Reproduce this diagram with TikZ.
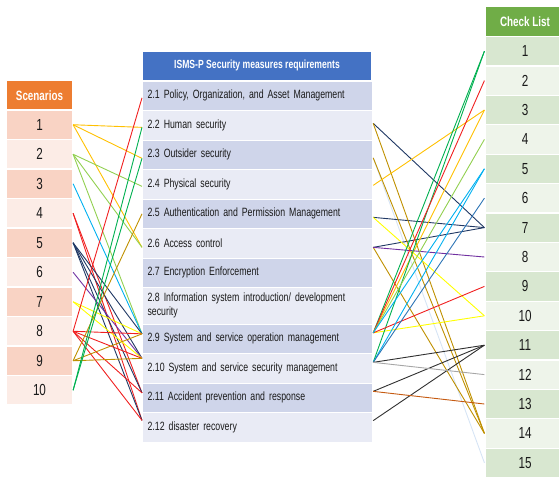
\documentclass[tikz,border=0pt]{standalone}
\usepackage{fontspec}
\setmainfont{Liberation Sans}[FakeStretch=0.73]
\usetikzlibrary{calc}

% table fills
\definecolor{scHead}{HTML}{ED7D31}
\definecolor{scDark}{HTML}{F9D3C4}
\definecolor{scLight}{HTML}{FCECE6}
\definecolor{isHead}{HTML}{4472C4}
\definecolor{isDark}{HTML}{CFD5EA}
\definecolor{isLight}{HTML}{E9EBF5}
\definecolor{clHead}{HTML}{70AD47}
\definecolor{clDark}{HTML}{D8E7D0}
\definecolor{clLight}{HTML}{EEF4EA}
\definecolor{txt}{HTML}{1A1A1A}
% link colours
\definecolor{lkYelOr}{HTML}{FFC000}
\definecolor{lkLGreen}{HTML}{92D050}
\definecolor{lkCyan}{HTML}{00B0F0}
\definecolor{lkRed}{HTML}{F02020}
\definecolor{lkNavy}{HTML}{203864}
\definecolor{lkPurple}{HTML}{7030A0}
\definecolor{lkYellow}{HTML}{FFFF00}
\definecolor{lkGold}{HTML}{BF9000}
\definecolor{lkGreen}{HTML}{00B050}
\definecolor{lkBlue}{HTML}{2E75B6}
\definecolor{lkBlack}{HTML}{303030}
\definecolor{lkGray}{HTML}{A6A6A6}
\definecolor{lkOrange}{HTML}{C55A11}
\definecolor{lkPale}{HTML}{D6E4F5}

\begin{document}
\begin{tikzpicture}[x=1pt,y=-1pt,
  cell/.style={draw=white, line width=1.2pt, inner sep=0pt, text=txt},
  headcell/.style={cell, text=white, font=\bfseries\fontsize{13.5}{15}\selectfont},
  numcell/.style={cell, font=\fontsize{16}{18}\selectfont},
  reqcell/.style={cell, anchor=north west, minimum width=230pt, text width=220pt,
    inner xsep=5pt, align=left, font=\fontsize{12}{14}\selectfont},
  lk/.style={line width=0.9pt}
]
\useasboundingbox (0,0) rectangle (559,477);

% ---------- Scenarios column ----------
\node[headcell, fill=scHead, minimum width=66pt, minimum height=29.5pt] (sh) at (39.5,95.25) {Scenarios};
\foreach \i in {1,...,10} {
  \ifodd\i\def\fc{scDark}\else\def\fc{scLight}\fi
  \pgfmathsetmacro\yc{110+29.5*(\i-0.5)}
  \node[numcell, fill=\fc, minimum width=66pt, minimum height=29.5pt] (s\i) at (39.5,\yc) {\i};
}

% ---------- ISMS-P requirements column ----------
\node[headcell, fill=isHead, minimum width=230pt, minimum height=29.5pt,
  font=\bfseries\fontsize{11.8}{14}\selectfont] (mh) at (257,65.75) {ISMS-P Security measures requirements};
\node[reqcell, fill=isDark,  minimum height=29.5pt] (m1)  at (142,80.5)  {2.1 Policy, Organization, and Asset Management};
\node[reqcell, fill=isLight, minimum height=29.5pt] (m2)  at (142,110)   {2.2 Human security};
\node[reqcell, fill=isDark,  minimum height=29.5pt] (m3)  at (142,139.5) {2.3 Outsider security};
\node[reqcell, fill=isLight, minimum height=29.5pt] (m4)  at (142,169)   {2.4 Physical security};
\node[reqcell, fill=isDark,  minimum height=29.5pt] (m5)  at (142,198.5) {2.5 Authentication and Permission Management};
\node[reqcell, fill=isLight, minimum height=29.5pt] (m6)  at (142,228)   {2.6 Access control};
\node[reqcell, fill=isDark,  minimum height=29.5pt] (m7)  at (142,257.5) {2.7 Encryption Enforcement};
\node[reqcell, fill=isLight, minimum height=36.5pt] (m8)  at (142,287)   {2.8 Information system introduction/ development\\security};
\node[reqcell, fill=isDark,  minimum height=29.5pt] (m9)  at (142,323.5) {2.9 System and service operation management};
\node[reqcell, fill=isLight, minimum height=29.5pt] (m10) at (142,353)   {2.10 System and service security management};
\node[reqcell, fill=isDark,  minimum height=29.5pt] (m11) at (142,382.5) {2.11 Accident prevention and response};
\node[reqcell, fill=isLight, minimum height=29.5pt] (m12) at (142,412)   {2.12 disaster recovery};

% ---------- Check List column ----------
\node[headcell, fill=clHead, minimum width=80pt, minimum height=30pt] (ch) at (525,21.5) {Check List};
\foreach \i in {1,...,15} {
  \ifodd\i\def\fc{clDark}\else\def\fc{clLight}\fi
  \pgfmathsetmacro\yc{36.5+29.4*(\i-0.5)}
  \node[numcell, fill=\fc, minimum width=80pt, minimum height=29.4pt] (c\i) at (525,\yc) {\i};
}

% ---------- attachment points on the requirement rows ----------
\foreach \n/\dl/\dr in {1/-2/0, 2/-2/2, 3/-3.5/-3, 4/-2/-1, 5/0/-3.5, 6/-4/-4,
                        9/5/6, 10/10/6, 11/5/6.5, 12/7/6.75} {
  \coordinate (L\n) at ([yshift=\dl pt]m\n.west);
  \coordinate (R\n) at ([yshift=\dr pt]m\n.east);
}

% ---------- scenario -> requirement links ----------
\foreach \s/\m/\c in {
  1/2/lkYelOr, 1/3/lkYelOr, 1/6/lkYelOr,
  2/4/lkLGreen, 2/6/lkLGreen, 2/9/lkLGreen,
  3/9/lkCyan,
  4/11/lkRed, 4/12/lkRed,
  5/9/lkNavy, 5/10/lkNavy, 5/11/lkNavy, 5/12/lkNavy,
  6/10/lkPurple,
  7/9/lkYellow, 7/10/lkYellow,
  8/1/lkRed, 8/9/lkRed, 8/10/lkRed, 8/11/lkRed, 8/12/lkRed,
  9/5/lkGold, 9/9/lkGold, 9/10/lkGold,
  10/2/lkGreen, 10/3/lkGreen}
  \draw[lk, draw=\c] (s\s.east) -- (L\m);

% ---------- requirement -> check list links ----------
\foreach \m/\k/\c in {
  3/15/lkPale,
  2/7/lkNavy, 5/7/lkNavy, 6/7/lkNavy,
  2/14/lkGold, 3/14/lkGold, 6/14/lkGold,
  4/3/lkYelOr, 9/3/lkYelOr,
  5/10/lkYellow, 9/10/lkYellow,
  6/8/lkPurple,
  9/1/lkGreen, 10/1/lkGreen,
  9/2/lkRed, 9/9/lkRed,
  9/4/lkLGreen,
  10/5/lkCyan, 9/5/lkCyan,
  10/6/lkBlue,
  10/11/lkBlack, 11/11/lkBlack, 12/11/lkBlack,
  10/12/lkGray,
  11/13/lkOrange}
  \draw[lk, draw=\c] (R\m) -- (c\k.west);
\end{tikzpicture}
\end{document}
